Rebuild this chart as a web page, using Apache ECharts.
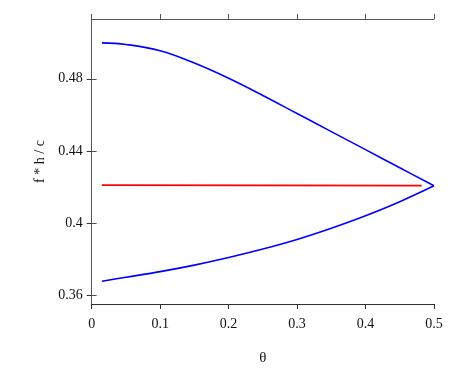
<!DOCTYPE html>
<html>
<head>
<meta charset="utf-8">
<script src="https://cdn.jsdelivr.net/npm/echarts@6/dist/echarts.min.js"></script>
<style>html,body{margin:0;padding:0;background:#fff;}#c{width:457px;height:381px;}</style>
</head>
<body>
<div id="c"></div>
<script>
var theta = [0.015, 0.05, 0.1, 0.15, 0.2, 0.25, 0.3, 0.35, 0.4, 0.45, 0.5];
var upper = [0.4999, 0.4990, 0.4955, 0.4887, 0.4803, 0.4708, 0.4608, 0.4508, 0.4408, 0.4308, 0.4208];
var lower = [0.3680, 0.3702, 0.3733, 0.3769, 0.3811, 0.3858, 0.3911, 0.3973, 0.4042, 0.4120, 0.4208];
var redTheta = [0.015, 0.482];
var redVals = [0.4212, 0.4209];
var yTicks = [0.36, 0.40, 0.44, 0.48];

function zip(a, b) { return a.map(function (v, i) { return [v, b[i]]; }); }

var font = 'Liberation Serif';
var axisColor = '#333';
var chart = echarts.init(document.getElementById('c'), null, {renderer: 'canvas'});
chart.setOption({
  animation: false,
  grid: {left: 91.7, right: 23, top: 19, bottom: 77, containLabel: false},
  xAxis: [{
    type: 'value', min: 0, max: 0.5, interval: 0.1, position: 'bottom',
    name: 'θ', nameLocation: 'middle', nameGap: 47,
    nameTextStyle: {fontFamily: font, fontSize: 15, color: '#111'},
    axisLine: {show: true, lineStyle: {color: axisColor, width: 1}},
    axisTick: {show: true, inside: false, length: 5, lineStyle: {color: axisColor}},
    axisLabel: {fontFamily: font, fontSize: 14, color: '#111', margin: 13},
    splitLine: {show: false}
  }, {
    type: 'value', min: 0, max: 0.5, interval: 0.1, position: 'top',
    axisLine: {show: true, lineStyle: {color: '#555', width: 1}},
    axisTick: {show: true, inside: false, length: 5, lineStyle: {color: '#555'}},
    axisLabel: {show: false},
    splitLine: {show: false}
  }],
  yAxis: [{
    type: 'value', min: 0.3554, max: 0.5131, position: 'left',
    name: 'f * h / c', nameLocation: 'middle', nameGap: 41, nameRotate: 90,
    nameTextStyle: {fontFamily: font, fontSize: 14, color: '#111'},
    axisLine: {show: true, lineStyle: {color: axisColor, width: 1}},
    axisTick: {show: true, inside: false, length: 5, customValues: yTicks, lineStyle: {color: axisColor}},
    axisLabel: {fontFamily: font, fontSize: 14, color: '#111', margin: 9, customValues: yTicks,
      formatter: function (v) { return String(+v.toFixed(2)); }},
    splitLine: {show: false}
  }, {
    type: 'value', min: 0.3554, max: 0.5131, position: 'right',
    axisLine: {show: true, lineStyle: {color: '#555', width: 1}},
    axisTick: {show: true, inside: false, length: 5, customValues: yTicks, lineStyle: {color: '#555'}},
    axisLabel: {show: false},
    splitLine: {show: false}
  }],
  series: [{
    type: 'line', data: zip(theta, upper), smooth: 0.4, symbol: 'none',
    lineStyle: {color: '#0000ff', width: 1.6}, xAxisIndex: 0, yAxisIndex: 0
  }, {
    type: 'line', data: zip(theta, lower), smooth: 0.4, symbol: 'none',
    lineStyle: {color: '#0000ff', width: 1.6}, xAxisIndex: 0, yAxisIndex: 0
  }, {
    type: 'line', data: zip(redTheta, redVals), symbol: 'none',
    lineStyle: {color: '#ff0000', width: 1.6}, xAxisIndex: 0, yAxisIndex: 0
  }]
});
</script>
</body>
</html>
